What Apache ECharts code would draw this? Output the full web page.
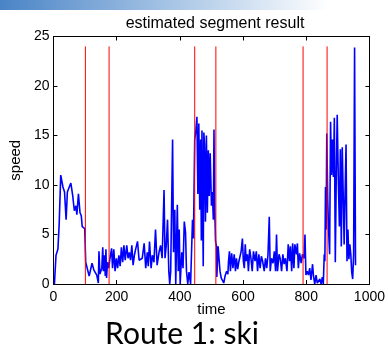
<!DOCTYPE html>
<html>
<head>
<meta charset="utf-8">
<script src="https://cdn.jsdelivr.net/npm/echarts@6/dist/echarts.min.js"></script>
<style>
  html, body { margin: 0; padding: 0; background: #fff; }
  #chart { width: 388px; height: 351px; }
</style>
</head>
<body>
<div id="chart"></div>
<script>
// Speed trace over time
const time = [3,8,14,18,23,30,35,40,44,50,55,61,66,71,74,79,84,88,91,96,99,
  102,106,113,122,128,137,142,144,147,153,156,158,161,164,166,168,171,175,178,
  184,187,191,195,199,203,207,211,215,219,223,227,232,236,240,244,248,252,256,260,
  266,271,276,281,287,292,297,300,304,309,313,318,323,328,334,339,344,350,353,357,
  361,365,368,371,377,380,384,387,392,395,398,401,406,410,414,418,421,425,429,434,
  440,443,447,451,454,457,460,463,466,468,470,474,476,478,481,484,487,490,493,496,
  500,503,506,508,510,513,516,517,521,525,527,531,535,539,543,548,552,554,557,560,
  564,568,572,576,579,583,587,591,594,598,601,604,607,610,614,617,621,625,629,633,
  638,642,646,650,654,658,662,667,671,675,679,683,686,690,695,699,703,706,709,714,
  718,722,726,730,734,739,743,747,750,754,757,761,764,769,772,775,779,784,788,793,
  796,799,803,807,811,815,820,823,827,831,835,839,843,847,851,854,857,859,861,863,
  865,868,871,874,877,880,883,886,889,892,895,898,902,905,908,911,914,917,920,923,
  926,929,932,935,938,941,944,947,950,953,956];
const speed = [0,2.9,3.5,6,11,9.8,9.3,6.5,9.3,9.8,10.2,8.9,7.4,7.9,7.0,9.1,7.2,6.9,5.8,6.0,5.6,
  2.2,2.0,0.8,2.1,1.4,0.9,0.1,3.3,1.0,1.6,3.7,1.3,2.9,0.8,3.5,0.6,2.2,1.6,2.4,
  3.6,1.6,3.5,1.3,2.6,1.6,2.9,1.8,3.7,2.2,3.9,2.4,3.9,2.6,3.2,2.4,3.9,1.9,2.9,3.5,
  4.3,2.4,2.4,2.6,4.1,1.6,3.2,1.8,4.3,1.6,2.9,2.2,5.5,1.9,3.2,3.9,2.6,9.5,2.6,3.9,
  6.5,1.3,0,1.3,14.6,3.2,7.5,0,8.0,1.3,5.5,0,3.2,1.6,6.3,5.2,1.3,0,1.2,0,
  6.5,4.6,14.6,15.6,16.9,9.1,16.2,7.5,14.6,4.4,15.5,1.8,15.3,14,6.3,15,7.2,13.5,8.9,13.2,
  7.9,9.3,6.5,15.6,8.0,4.3,3.8,0.7,3.8,3.6,1.3,0.6,0.8,0.1,0.8,1.3,1.0,2.3,3.3,1.3,
  3.1,1.6,3.0,1.3,2.6,1.5,2.3,2.3,3.3,4.6,2.3,1.6,4.0,2.3,3.0,1.3,3.5,2.6,1.3,3.3,
  2.3,3.3,1.3,3.0,1.6,2.8,2.3,1.3,2.6,1.6,3.0,6.8,1.3,2.6,2.1,3.3,1.3,5.0,1.3,3.0,
  2.5,1.3,3.0,2.0,2.6,1.3,4.0,2.3,3.8,1.3,4.1,1.6,4.0,3.0,4.1,1.6,3.1,2.1,3.0,2.6,
  5.0,0.9,1.3,0.9,1.6,0.4,2.0,0.8,0,0.9,0.1,0,0.5,0,0.7,0,3.0,2.3,9.8,5.5,
  15.2,8.5,5.2,3.0,16.4,11.0,14.6,10.8,16.8,2.2,10.8,17.1,9.8,5.8,13.6,3.8,13.8,9.1,4.0,9.3,
  14.1,2.3,5.5,2.5,4.0,3.0,1.2,0.5,3.0,23.9,1.9];

// Estimated segment boundaries
const boundaries = [101, 176, 447, 514, 790, 866];
const boundaryTop = 24;

// Axis ticks
const xTicks = [0, 200, 400, 600, 800, 1000];
const yTicks = [0, 5, 10, 15, 20, 25];

const chart = echarts.init(document.getElementById('chart'), null, { renderer: 'canvas' });

const FONT = '"Liberation Sans", Arial, sans-serif';
const axisCommon = {
  axisLine: { show: true, onZero: false, lineStyle: { color: '#000', width: 1 } },
  axisTick: { show: true, inside: true, length: 4, lineStyle: { color: '#000' } },
  splitLine: { show: false }
};

// Boundary segments as vertical strokes separated by gaps
const boundaryData = [];
boundaries.forEach(b => {
  boundaryData.push([b, 0], [b, boundaryTop], [b, '-']);
});

chart.setOption({
  animation: false,
  backgroundColor: '#fff',
  title: {
    text: 'estimated segment result',
    left: 210, top: 11, textAlign: 'center',
    textStyle: { fontFamily: FONT, fontSize: 16, fontWeight: 'normal', color: '#000' }
  },
  grid: { left: 49, right: 16, top: 36.5, bottom: 67, containLabel: false },
  xAxis: [
    Object.assign({}, axisCommon, {
      type: 'value', min: xTicks[0], max: xTicks[xTicks.length - 1], interval: 200, position: 'bottom',
      name: 'time', nameLocation: 'middle', nameGap: 18, nameMoveOverlap: false,
      nameTextStyle: { fontFamily: FONT, fontSize: 15, color: '#000' },
      axisLabel: { margin: 6, fontFamily: FONT, fontSize: 14, color: '#000', formatter: v => String(v) }
    }),
    Object.assign({}, axisCommon, {
      type: 'value', min: xTicks[0], max: xTicks[xTicks.length - 1], interval: 200, position: 'top',
      axisLabel: { show: false }
    })
  ],
  yAxis: [
    Object.assign({}, axisCommon, {
      type: 'value', min: yTicks[0], max: yTicks[yTicks.length - 1], interval: 5, position: 'left',
      name: 'speed', nameLocation: 'middle', nameGap: 28,
      nameTextStyle: { fontFamily: FONT, fontSize: 15, color: '#000' },
      axisLabel: { margin: 4, fontFamily: FONT, fontSize: 14, color: '#000', formatter: v => String(v) }
    }),
    Object.assign({}, axisCommon, {
      type: 'value', min: yTicks[0], max: yTicks[yTicks.length - 1], interval: 5, position: 'right',
      axisLabel: { show: false }
    })
  ],
  series: [
    {
      name: 'speed',
      type: 'line',
      data: time.map((t, i) => [t, speed[i]]),
      showSymbol: false,
      lineStyle: { color: '#0000ff', width: 1.6 },
      z: 2
    },
    {
      name: 'segments',
      type: 'line',
      data: boundaryData,
      showSymbol: false,
      connectNulls: false,
      lineStyle: { color: '#ff0000', width: 1 },
      z: 3
    }
  ],
  graphic: [
    {
      type: 'rect', left: 0, top: 0, z: -1,
      shape: { width: 388, height: 10 },
      style: {
        fill: new echarts.graphic.LinearGradient(0, 0, 1, 0, [
          { offset: 0, color: '#4a84c6' },
          { offset: 0.45, color: '#a9c6e6' },
          { offset: 0.85, color: '#ffffff' }
        ])
      }
    },
    {
      type: 'text', x: 182, y: 334, z: 10,
      style: {
        text: 'Route 1: ski',
        font: '30px Lato, "Open Sans", sans-serif',
        fill: '#000',
        textAlign: 'center',
        textVerticalAlign: 'middle'
      }
    }
  ]
});
</script>
</body>
</html>
